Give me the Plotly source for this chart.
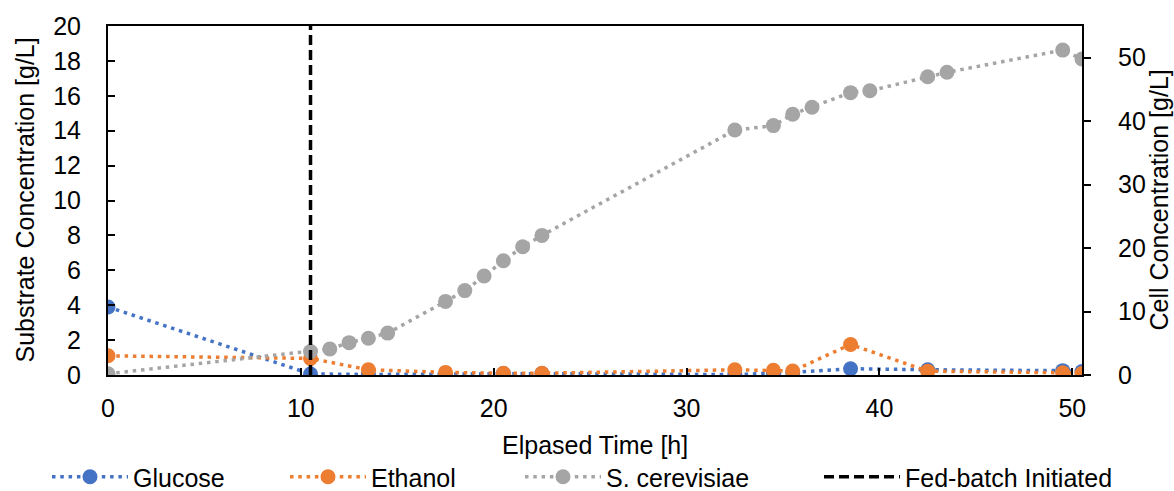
import plotly.graph_objects as go

# Sampling times [h]
time_cells = [0, 10.5, 11.5, 12.5, 13.5, 14.5, 17.5, 18.5, 19.5, 20.5, 21.5,
              22.5, 32.5, 34.5, 35.5, 36.5, 38.5, 39.5, 42.5, 43.5, 49.5, 50.5]
time_substrate = [0, 10.5, 13.5, 17.5, 20.5, 22.5, 32.5, 34.5, 35.5, 38.5,
                  42.5, 49.5, 50.5]

# Concentrations [g/L]
glucose = [3.9, 0.06, 0.03, 0.04, 0.08, 0.08, 0.02, 0.1, 0.15, 0.36, 0.3, 0.25, 0.2]
ethanol = [1.1, 0.95, 0.3, 0.15, 0.1, 0.1, 0.3, 0.27, 0.23, 1.75, 0.22, 0.13, 0.08]
cells = [0.2, 3.7, 4.1, 5.1, 5.8, 6.6, 11.6, 13.3, 15.6, 18.0, 20.2, 22.0,
         38.6, 39.3, 41.1, 42.2, 44.5, 44.8, 47.0, 47.7, 51.2, 49.8]

# Fed-batch start time [h]
fed_batch_start = 10.5

# Axis limits and tick values
x_range = [0, 50.5]
y_left_range = [0, 20]
y_right_range = [0, 55]
x_ticks = [0, 10, 20, 30, 40, 50]

# Axis titles
x_title = "Elpased Time [h]"
y_left_title = "Substrate Concentration [g/L]"
y_right_title = "Cell Concentration [g/L]"

BLUE = "#4472C4"
ORANGE = "#ED7D31"
GRAY = "#A5A5A5"
FONT = "Liberation Sans, Arial, sans-serif"
FS = 25
DOT = "3.5px,4.8px"

W, H = 1174, 491
M_L, M_R, M_T, M_B = 108, 92, 26, 116
PLOT_W = W - M_L - M_R
PLOT_H = H - M_T - M_B

fig = go.Figure()

fig.add_trace(go.Scatter(
    x=time_substrate, y=glucose, name="Glucose", mode="lines+markers",
    line=dict(color=BLUE, width=3.5, dash=DOT),
    marker=dict(color=BLUE, size=15), yaxis="y", legend="legend",
))
fig.add_trace(go.Scatter(
    x=time_substrate, y=ethanol, name="Ethanol", mode="lines+markers",
    line=dict(color=ORANGE, width=3.5, dash=DOT),
    marker=dict(color=ORANGE, size=15), yaxis="y", legend="legend2",
))
fig.add_trace(go.Scatter(
    x=time_cells, y=cells, name="S. cerevisiae", mode="lines+markers",
    line=dict(color=GRAY, width=3.5, dash=DOT),
    marker=dict(color=GRAY, size=15), yaxis="y2", legend="legend3",
))
fig.add_trace(go.Scatter(
    x=[fed_batch_start, fed_batch_start], y=y_right_range,
    name="Fed-batch Initiated", mode="lines",
    line=dict(color="black", width=3.5, dash="10px,5px"),
    yaxis="y2", legend="legend4",
))

def legend_at(x_px):
    return dict(
        xref="container", yref="container",
        x=x_px / W, y=1 - 477 / H,
        xanchor="left", yanchor="middle",
        orientation="h", itemwidth=76,
        bgcolor="rgba(0,0,0,0)", borderwidth=0,
        font=dict(family=FONT, size=FS, color="black"),
    )

def px_x(px):
    return (px - M_L) / PLOT_W

def px_y(py):
    return (H - M_B - py) / PLOT_H

axis_font = dict(family=FONT, size=FS, color="black")

title_notes = [
    dict(text=x_title, x=px_x(M_L + PLOT_W / 2), y=px_y(445), textangle=0),
    dict(text=y_left_title, x=px_x(24), y=px_y(M_T + PLOT_H / 2), textangle=-90),
    dict(text=y_right_title, x=px_x(1158), y=px_y(M_T + PLOT_H / 2), textangle=-90),
]
annotations = [
    dict(xref="paper", yref="paper", xanchor="center", yanchor="middle",
         showarrow=False, font=axis_font, **t)
    for t in title_notes
]

fig.update_layout(
    width=W, height=H,
    margin=dict(l=M_L, r=M_R, t=M_T, b=M_B, autoexpand=False),
    paper_bgcolor="white", plot_bgcolor="white",
    font=axis_font,
    showlegend=True,
    legend=legend_at(47),
    legend2=legend_at(285),
    legend3=legend_at(520),
    legend4=legend_at(819),
    annotations=annotations,
    xaxis=dict(
        range=x_range, tickvals=x_ticks, showgrid=False, zeroline=False,
        showline=True, linecolor="black", linewidth=2, mirror=True,
        ticks="inside", ticklen=7, tickwidth=1.5, tickcolor="black",
        tickfont=axis_font, ticklabelstandoff=10, automargin=False,
    ),
    yaxis=dict(
        range=y_left_range, dtick=2, showgrid=False, zeroline=False,
        showline=True, linecolor="black", linewidth=2,
        ticks="inside", ticklen=7, tickwidth=1.5, tickcolor="black",
        tickfont=axis_font, ticklabelstandoff=20, automargin=False,
    ),
    yaxis2=dict(
        range=y_right_range, dtick=10, overlaying="y", side="right",
        showgrid=False, zeroline=False,
        showline=True, linecolor="black", linewidth=2,
        ticks="outside", ticklen=7, tickwidth=1.5, tickcolor="black",
        tickfont=axis_font, ticklabelstandoff=22, automargin=False,
    ),
)

fig.write_html("out.html")
